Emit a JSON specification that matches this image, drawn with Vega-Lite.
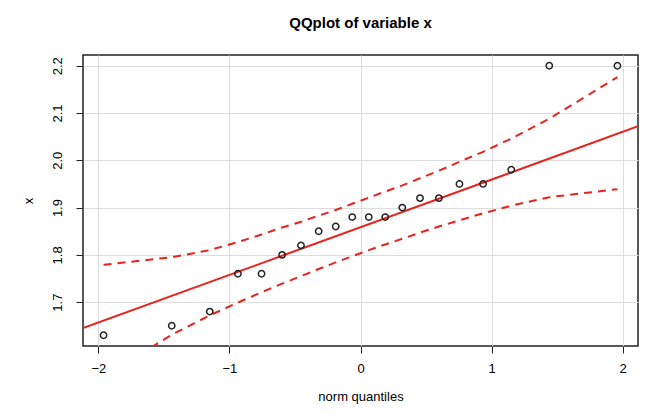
{
  "$schema": "https://vega.github.io/schema/vega-lite/v6.json",
  "width": 555,
  "height": 291,
  "autosize": {"type": "none"},
  "padding": {"left": 83, "top": 55, "right": 11, "bottom": 73},
  "background": "white",
  "title": {"text": "QQplot of variable x", "fontSize": 15, "fontWeight": "bold", "font": "Liberation Sans", "anchor": "middle", "offset": 24, "color": "black"},
  "config": {
    "view": {"stroke": "#222222", "strokeWidth": 1.5},
    "axis": {
      "labelFont": "Liberation Sans", "titleFont": "Liberation Sans",
      "labelFontSize": 13, "titleFontSize": 13, "titleFontWeight": "normal",
      "labelColor": "black", "titleColor": "black",
      "domain": false, "tickColor": "#222222", "tickSize": 7, "tickWidth": 1,
      "gridColor": "#dddddd", "gridWidth": 1
    }
  },
  "datasets": {
    "points": [
      {"z": -1.960, "y": 1.63}, {"z": -1.440, "y": 1.65}, {"z": -1.150, "y": 1.68}, {"z": -0.935, "y": 1.76},
      {"z": -0.755, "y": 1.76}, {"z": -0.598, "y": 1.80}, {"z": -0.454, "y": 1.82}, {"z": -0.319, "y": 1.85},
      {"z": -0.189, "y": 1.86}, {"z": -0.063, "y": 1.88}, {"z": 0.063, "y": 1.88}, {"z": 0.189, "y": 1.88},
      {"z": 0.319, "y": 1.90}, {"z": 0.454, "y": 1.92}, {"z": 0.598, "y": 1.92}, {"z": 0.755, "y": 1.95},
      {"z": 0.935, "y": 1.95}, {"z": 1.150, "y": 1.98}, {"z": 1.440, "y": 2.20}, {"z": 1.960, "y": 2.20}
    ],
    "fit": [
      {"z": -2.117, "y": 1.645}, {"z": 2.117, "y": 2.072}
    ],
    "envelope": [
      {"side": "upper", "z": -1.960, "y": 1.779}, {"side": "upper", "z": -1.440, "y": 1.795}, {"side": "upper", "z": -1.150, "y": 1.810},
      {"side": "upper", "z": -0.935, "y": 1.827}, {"side": "upper", "z": -0.755, "y": 1.843}, {"side": "upper", "z": -0.598, "y": 1.858},
      {"side": "upper", "z": -0.454, "y": 1.870}, {"side": "upper", "z": -0.319, "y": 1.883}, {"side": "upper", "z": -0.189, "y": 1.895},
      {"side": "upper", "z": -0.063, "y": 1.908}, {"side": "upper", "z": 0.063, "y": 1.921}, {"side": "upper", "z": 0.189, "y": 1.934},
      {"side": "upper", "z": 0.319, "y": 1.947}, {"side": "upper", "z": 0.454, "y": 1.962}, {"side": "upper", "z": 0.598, "y": 1.978},
      {"side": "upper", "z": 0.755, "y": 1.997}, {"side": "upper", "z": 0.935, "y": 2.018}, {"side": "upper", "z": 1.150, "y": 2.046},
      {"side": "upper", "z": 1.440, "y": 2.088}, {"side": "upper", "z": 1.960, "y": 2.176},
      {"side": "lower", "z": -1.960, "y": 1.542}, {"side": "lower", "z": -1.440, "y": 1.631}, {"side": "lower", "z": -1.150, "y": 1.672},
      {"side": "lower", "z": -0.935, "y": 1.699}, {"side": "lower", "z": -0.755, "y": 1.721}, {"side": "lower", "z": -0.598, "y": 1.739},
      {"side": "lower", "z": -0.454, "y": 1.755}, {"side": "lower", "z": -0.319, "y": 1.770}, {"side": "lower", "z": -0.189, "y": 1.784},
      {"side": "lower", "z": -0.063, "y": 1.797}, {"side": "lower", "z": 0.063, "y": 1.810}, {"side": "lower", "z": 0.189, "y": 1.822},
      {"side": "lower", "z": 0.319, "y": 1.834}, {"side": "lower", "z": 0.454, "y": 1.847}, {"side": "lower", "z": 0.598, "y": 1.860},
      {"side": "lower", "z": 0.755, "y": 1.873}, {"side": "lower", "z": 0.935, "y": 1.888}, {"side": "lower", "z": 1.150, "y": 1.904},
      {"side": "lower", "z": 1.440, "y": 1.922}, {"side": "lower", "z": 1.960, "y": 1.939}
    ]
  },
  "encoding": {
    "x": {
      "field": "z", "type": "quantitative",
      "scale": {"domain": [-2.117, 2.117], "nice": false, "zero": false},
      "axis": {"values": [-2, -1, 0, 1, 2], "title": "norm quantiles", "labelPadding": 9, "titlePadding": 15, "grid": true}
    },
    "y": {
      "field": "y", "type": "quantitative",
      "scale": {"domain": [1.6072, 2.2228], "nice": false, "zero": false},
      "axis": {"values": [1.7, 1.8, 1.9, 2.0, 2.1, 2.2], "format": ".1f", "title": "x", "labelAngle": -90, "labelAlign": "center", "labelBaseline": "bottom", "labelPadding": 12, "titlePadding": 16, "titleAngle": -90, "grid": true}
    }
  },
  "layer": [
    {
      "data": {"name": "fit"},
      "mark": {"type": "line", "color": "#e8231f", "strokeWidth": 2, "clip": true}
    },
    {
      "data": {"name": "envelope"},
      "mark": {"type": "line", "color": "#e8231f", "strokeWidth": 2, "strokeDash": [8, 6], "clip": true},
      "encoding": {"detail": {"field": "side", "type": "nominal"}}
    },
    {
      "data": {"name": "points"},
      "mark": {"type": "point", "shape": "circle", "filled": false, "color": "#222222", "strokeWidth": 1.5, "size": 40, "opacity": 1}
    }
  ]
}
